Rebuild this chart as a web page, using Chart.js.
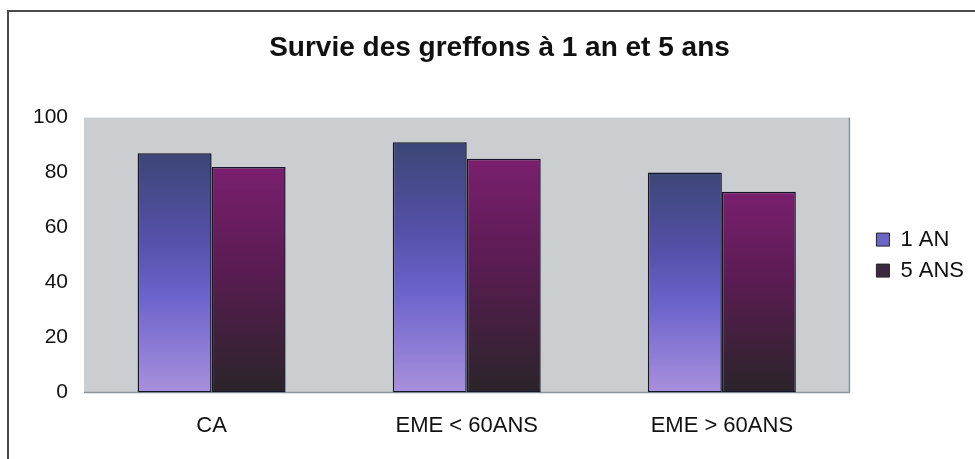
<!DOCTYPE html>
<html>
<head>
<meta charset="utf-8">
<script src="https://cdn.jsdelivr.net/npm/chart.js@4.4.1/dist/chart.umd.min.js"></script>
<style>
  html, body { margin: 0; padding: 0; background: #fff; }
  #wrap { width: 975px; height: 459px; position: relative; }
</style>
</head>
<body>
<div id="wrap"><canvas id="graf" width="975" height="459"></canvas></div>
<script>
// données
const categories = ['CA', 'EME < 60ANS', 'EME > 60ANS'];
const survie1an = [87, 91, 80];
const survie5ans = [82, 85, 73];
const yTicks = [0, 20, 40, 60, 80, 100];

const FONT = "'Liberation Sans', Arial, sans-serif";

// dégradé vertical propre à chaque barre
function barGradient(stops) {
  return function(context) {
    const chart = context.chart;
    if (!chart.chartArea || !chart.scales.y) return stops[1][1];
    const y = chart.scales.y;
    const v = context.dataset.data[context.dataIndex];
    const top = y.getPixelForValue(v);
    const bottom = y.getPixelForValue(0);
    const g = chart.ctx.createLinearGradient(0, top, 0, bottom);
    stops.forEach(function(s) { g.addColorStop(s[0], s[1]); });
    return g;
  };
}

const fond = {
  id: 'fond',
  afterLayout(chart) {
    // légende centrée sur la zone de traçage, un peu décalée à droite
    const lg = chart.legend, a = chart.chartArea;
    const w = lg.width;
    lg.left = a.right + 18;
    lg.right = lg.left + w;
    lg.top = a.top;
    lg.bottom = a.bottom;
    lg.height = a.bottom - a.top;
    // titre un peu décalé vers la droite comme sur l'original
    chart.titleBlock.left += 13;
    chart.titleBlock.right += 13;
  },
  beforeDraw(chart) {
    const c = chart.ctx, a = chart.chartArea;
    c.save();
    // cadre extérieur
    c.strokeStyle = '#4a4a4a';
    c.lineWidth = 2;
    c.beginPath();
    c.moveTo(8, 459);
    c.lineTo(8, 11);
    c.lineTo(975, 11);
    c.stroke();
    // zone de traçage grise
    c.fillStyle = '#cbced1';
    c.fillRect(a.left, a.top, a.right - a.left, a.bottom - a.top);
    c.strokeStyle = '#8e9397';
    c.lineWidth = 1.5;
    c.beginPath();
    c.moveTo(a.right, a.top);
    c.lineTo(a.right, a.bottom);
    c.lineTo(a.left, a.bottom);
    c.stroke();
    c.restore();
  }
};

const legendColors = ['#6c64c6', '#3b2a40'];

new Chart(document.getElementById('graf'), {
  type: 'bar',
  data: {
    labels: categories,
    datasets: [{
      label: '1 AN',
      data: survie1an,
      backgroundColor: barGradient([[0, '#3c4676'], [0.35, '#5450a8'], [0.6, '#6c63cc'], [1, '#a890dc']]),
      borderColor: '#15152a',
      borderWidth: 1.5,
      borderSkipped: false
    }, {
      label: '5 ANS',
      data: survie5ans,
      backgroundColor: barGradient([[0, '#7a1f6e'], [0.45, '#5a1c52'], [1, '#2a2429']]),
      borderColor: '#15152a',
      borderWidth: 1.5,
      borderSkipped: false
    }]
  },
  options: {
    responsive: false,
    animation: false,
    layout: { padding: { left: 17, right: 19, top: 0, bottom: 0 } },
    datasets: { bar: { barPercentage: 1, categoryPercentage: 0.58 } },
    plugins: {
      title: {
        display: true,
        text: 'Survie des greffons à 1 an et 5 ans',
        color: '#111',
        font: { family: FONT, size: 28, weight: 'bold' },
        padding: { top: 31, bottom: 53 }
      },
      legend: {
        position: 'right',
        labels: {
          color: '#111',
          font: { family: FONT, size: 22 },
          boxWidth: 13,
          boxHeight: 13,
          padding: 9,
          generateLabels: function(chart) {
            const items = Chart.defaults.plugins.legend.labels.generateLabels(chart);
            items.forEach(function(it, i) {
              it.fillStyle = legendColors[i];
              it.strokeStyle = '#222';
              it.lineWidth = 1;
            });
            return items;
          }
        }
      },
      tooltip: { enabled: false }
    },
    scales: {
      x: {
        grid: { display: false, drawTicks: false },
        border: { display: false },
        ticks: { color: '#111', font: { family: FONT, size: 22 }, padding: 20 }
      },
      y: {
        min: 0,
        max: 100,
        afterBuildTicks: function(axis) {
          axis.ticks = yTicks.map(function(v) { return { value: v }; });
        },
        grid: { display: false, drawTicks: false },
        border: { display: false },
        ticks: { color: '#111', font: { family: FONT, size: 21 }, padding: 16 }
      }
    }
  },
  plugins: [fond]
});
</script>
</body>
</html>
